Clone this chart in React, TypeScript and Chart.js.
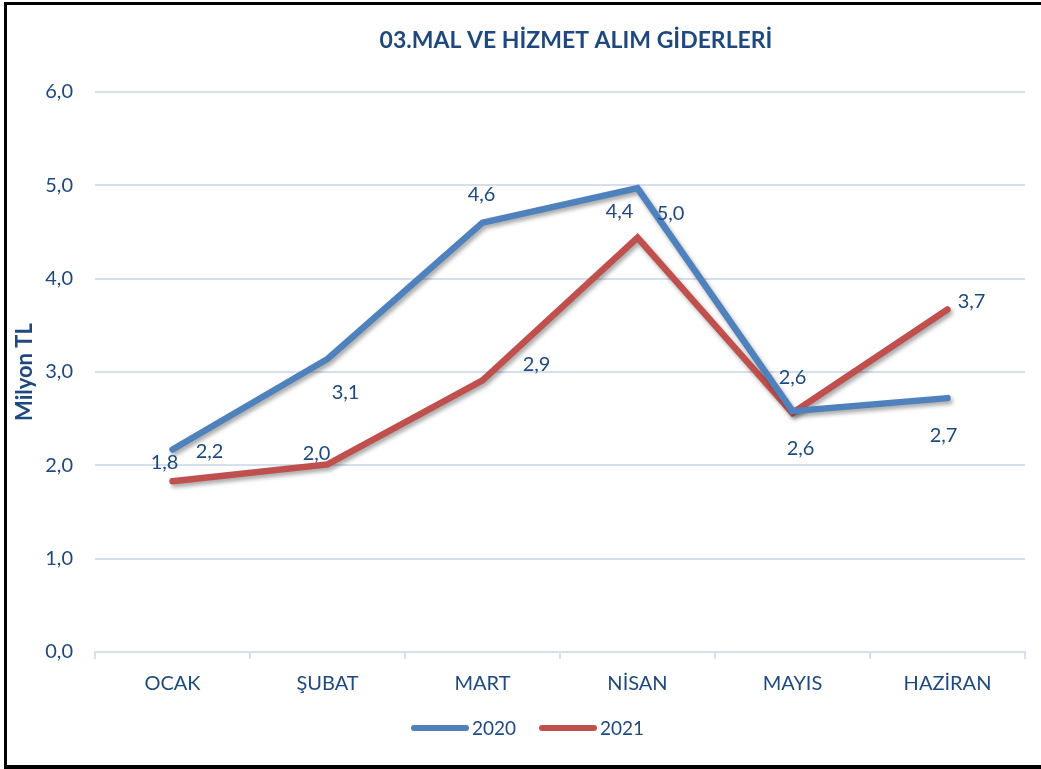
import React, { useEffect, useRef } from "react";
import { Chart, registerables } from "chart.js";

Chart.register(...registerables);

const categories = ["OCAK", "ŞUBAT", "MART", "NİSAN", "MAYIS", "HAZİRAN"];
const series2020 = [2.17, 3.14, 4.6, 4.97, 2.58, 2.72];
const series2021 = [1.83, 2.01, 2.91, 4.44, 2.56, 3.67];
const seriesNames = ["2020", "2021"];
const yTicks = [0, 1, 2, 3, 4, 5, 6];
const titleText = "03.MAL VE HİZMET ALIM GİDERLERİ";
const yTitle = "Milyon TL";

// label placement offsets (style, not data)
const labelOffsets = [
  [[37, 2], [18, 34], [-1, -28], [33, 25], [0, -34], [-4, 37]],
  [[-8, -19], [-11, -11], [54, -16], [-18, -26], [8, 35], [24, -8]],
];

const TEXT = "#1F497D";
const FONT = "Lato, 'Open Sans', sans-serif";
const COLORS = ["#4F81BD", "#C0504D"];

const fmt = (v: number) => v.toFixed(1).replace(".", ",");

export default function App() {
  const ref = useRef<HTMLCanvasElement | null>(null);
  useEffect(() => {
    document.body.style.margin = "0";
    const canvas = ref.current!;
    const shadowPlugin = {
      id: "shadow",
      beforeDatasetDraw(chart: any) {
        const c = chart.ctx;
        c.save();
        c.shadowColor = "rgba(0,0,0,0.35)";
        c.shadowBlur = 4;
        c.shadowOffsetX = 2;
        c.shadowOffsetY = 3;
      },
      afterDatasetDraw(chart: any) {
        chart.ctx.restore();
      },
    };
    const decor = {
      id: "decor",
      afterDatasetsDraw(chart: any) {
        const c = chart.ctx;
        c.save();
        c.fillStyle = TEXT;
        c.font = `20px ${FONT}`;
        c.textAlign = "center";
        c.textBaseline = "middle";
        chart.data.datasets.forEach((ds: any, di: number) => {
          const meta = chart.getDatasetMeta(di);
          meta.data.forEach((pt: any, i: number) => {
            const [dx, dy] = labelOffsets[di][i];
            c.fillText(fmt(ds.data[i]), pt.x + dx, pt.y + dy);
          });
        });
        c.restore();
      },
      afterDraw(chart: any) {
        const c = chart.ctx;
        c.save();
        c.fillStyle = TEXT;
        c.font = `bold 23px ${FONT}`;
        c.textAlign = "center";
        c.textBaseline = "middle";
        c.fillText(titleText, 576, 41);
        // legend
        c.font = `19px ${FONT}`;
        c.textAlign = "left";
        const ly = 728;
        const items = [
          { x: 414, label: seriesNames[0], color: COLORS[0] },
          { x: 542, label: seriesNames[1], color: COLORS[1] },
        ];
        items.forEach((it) => {
          c.strokeStyle = it.color;
          c.lineWidth = 6;
          c.lineCap = "round";
          c.beginPath();
          c.moveTo(it.x, ly);
          c.lineTo(it.x + 52, ly);
          c.stroke();
          c.fillText(it.label, it.x + 58, ly + 1);
        });
        c.restore();
      },
    };
    const chart = new Chart(canvas, {
      type: "line",
      data: {
        labels: categories,
        datasets: [
          {
            label: seriesNames[0],
            data: series2020,
            borderColor: COLORS[0],
            backgroundColor: COLORS[0],
            borderWidth: 6.5,
            pointRadius: 0,
            borderJoinStyle: "miter",
            borderCapStyle: "round",
            tension: 0,
          },
          {
            label: seriesNames[1],
            data: series2021,
            borderColor: COLORS[1],
            backgroundColor: COLORS[1],
            borderWidth: 6.5,
            pointRadius: 0,
            borderJoinStyle: "miter",
            borderCapStyle: "round",
            tension: 0,
          },
        ],
      },
      options: {
        animation: false,
        responsive: false,
        layout: { padding: { top: 92, right: 16, bottom: 0, left: 0 } },
        plugins: {
          legend: { display: false },
          title: { display: false },
          tooltip: { enabled: false },
        },
        scales: {
          x: {
            offset: true,
            grid: {
              offset: true,
              drawOnChartArea: false,
              color: "#D5DFEE",
              lineWidth: 2,
              tickLength: 7,
            },
            border: { color: "#D5DFEE", width: 2 },
            ticks: {
              color: TEXT,
              font: { family: FONT, size: 20 },
              padding: 13,
              maxRotation: 0,
            },
            afterFit: (s: any) => {
              s.height = 117;
            },
          },
          y: {
            min: 0,
            max: 6,
            afterBuildTicks: (s: any) => {
              s.ticks = yTicks.map((v) => ({ value: v }));
            },
            grid: { color: "#D5DFEE", lineWidth: 2, drawTicks: false },
            border: { display: false },
            ticks: {
              color: TEXT,
              font: { family: FONT, size: 20 },
              padding: 22,
              callback: (v: any) => fmt(Number(v)),
            },
            title: {
              display: true,
              text: yTitle,
              color: TEXT,
              font: { family: FONT, size: 22, weight: "bold" },
              padding: { top: 12, bottom: 0 },
            },
            afterFit: (s: any) => {
              s.width = 95;
            },
          },
        },
      },
      plugins: [shadowPlugin, decor],
    });
    return () => chart.destroy();
  }, []);
  return (
    <div style={{ position: "relative", width: 1041, height: 769, background: "#fff", overflow: "hidden" }}>
      <canvas ref={ref} width={1041} height={769} style={{ position: "absolute", left: 0, top: 0 }} />
      <div
        style={{
          position: "absolute",
          left: 4,
          top: 2,
          width: 1060,
          height: 760,
          borderLeft: "3px solid #000",
          borderTop: "3px solid #000",
          borderBottom: "5px solid #000",
          pointerEvents: "none",
        }}
      />
    </div>
  );
}
